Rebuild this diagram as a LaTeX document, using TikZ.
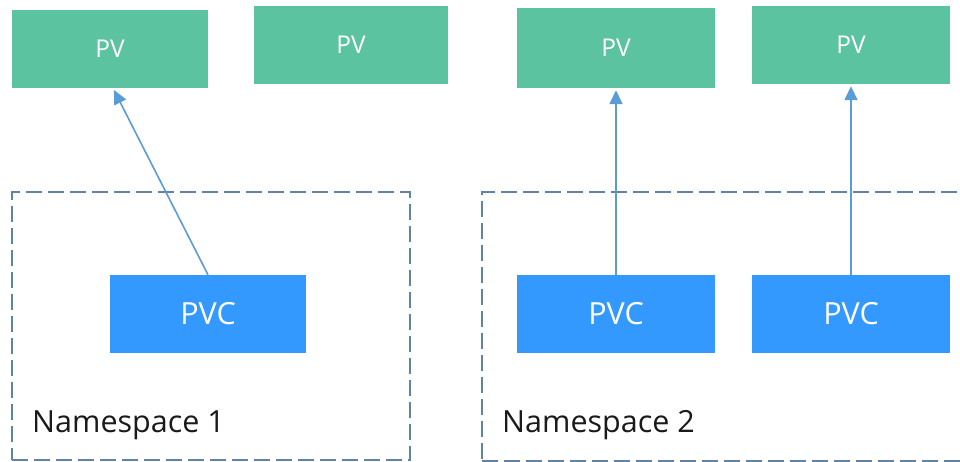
\documentclass[tikz,border=0pt]{standalone}
\usepackage{fontspec}
\setmainfont{Open Sans}
\usetikzlibrary{arrows.meta}
\definecolor{pvgreen}{RGB}{91,195,160}
\definecolor{pvcblue}{RGB}{51,153,255}
\definecolor{nsline}{RGB}{96,132,168}
\definecolor{arrowblue}{RGB}{91,155,215}
\definecolor{nstext}{RGB}{26,26,26}
\tikzset{
  pvbox/.style={rectangle, fill=pvgreen, draw=none, text=white, inner sep=0pt,
    minimum height=78pt, font=\fontsize{24.5}{28}\selectfont},
  pvcbox/.style={rectangle, fill=pvcblue, draw=none, text=white, inner sep=0pt,
    minimum height=78pt, font=\fontsize{30.5}{36}\selectfont},
  nsbox/.style={rectangle, draw=nsline, line width=2pt, dash pattern=on 16pt off 6pt, inner sep=0pt},
  nslabel/.style={anchor=base west, inner sep=0pt, text=nstext, font=\fontsize{30.5}{34}\selectfont},
  link/.style={draw=arrowblue, line width=1.6pt, -{Triangle[length=14pt,width=13pt]}, shorten >=2pt}
}
\begin{document}
\begin{tikzpicture}[x=1pt,y=-1pt]
\useasboundingbox (0,0) rectangle (960,462);
% namespace containers
\node[nsbox, minimum width=398pt, minimum height=268pt] (ns1) at (211,326) {};
\node[nsbox, minimum width=488pt, minimum height=269pt] (ns2) at (726,326.5) {};
\node[nslabel] (ns1t) at (32,432) {Namespace 1};
\node[nslabel] (ns2t) at (502,432) {Namespace 2};
% PVs
\node[pvbox, minimum width=196pt] (pv1) at (110,49) {PV};
\node[pvbox, minimum width=194pt] (pv2) at (351,45) {PV};
\node[pvbox, minimum width=198pt, minimum height=80pt] (pv3) at (616,48) {PV};
\node[pvbox, minimum width=198pt] (pv4) at (851,45) {PV};
% PVCs
\node[pvcbox, minimum width=196pt] (pvc1) at (208,314) {PVC};
\node[pvcbox, minimum width=198pt] (pvc2) at (616,314) {PVC};
\node[pvcbox, minimum width=198pt] (pvc3) at (851,314) {PVC};
% bindings
\draw[link] (pvc1.north) -- ([xshift=3pt]pv1.south);
\draw[link] (pvc2.north) -- (pv3.south);
\draw[link] (pvc3.north) -- (pv4.south);
\end{tikzpicture}
\end{document}
